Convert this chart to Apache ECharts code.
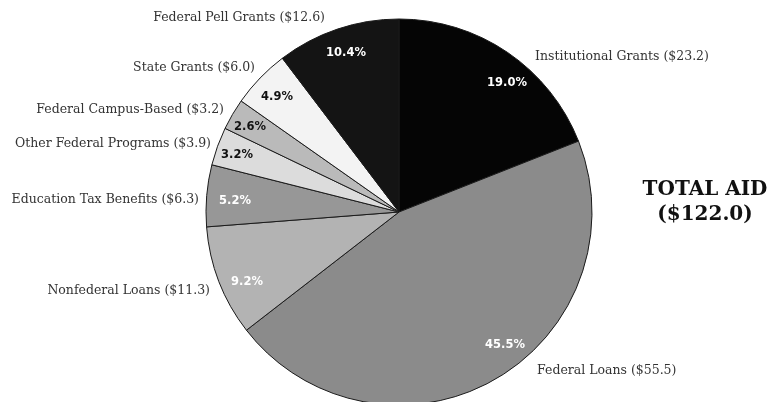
<!DOCTYPE html>
<html><head><meta charset="utf-8">
<script src="https://cdn.jsdelivr.net/npm/echarts@6/dist/echarts.min.js"></script>
<style>html,body{margin:0;padding:0;background:#fff}#c{width:774px;height:402px}</style>
</head><body><div id="c"></div>
<script>
// Data (billions of dollars), clockwise from 12 o'clock
const categories = ['Institutional Grants','Federal Loans','Nonfederal Loans','Education Tax Benefits','Other Federal Programs','Federal Campus-Based','State Grants','Federal Pell Grants'];
const values = [23.2, 55.5, 11.3, 6.3, 3.9, 3.2, 6.0, 12.6];
const pctLabels = ['19.0%','45.5%','9.2%','5.2%','3.2%','2.6%','4.9%','10.4%'];
const totalLabel = '($122.0)';

// Styles & label placement (kept separate from data)
const sliceColors = ['#050505','#8b8b8b','#b3b3b3','#979797','#dcdcdc','#bababa','#f3f3f3','#141414'];
const pctColors = ['#fff','#fff','#fff','#fff','#111','#111','#111','#fff'];
const pctPos = [[507,83],[505,345],[247,282],[235,201],[237,155],[250,127],[277,97],[346,53]];
const namePos = [[535,57,'left'],[537,371,'left'],[210,291,'right'],[199,200,'right'],[211,144,'right'],[224,110,'right'],[255,68,'right'],[325,18,'right']];

const chart = echarts.init(document.getElementById('c'), null, {renderer:'canvas'});
const center = [399, 212];
const radius = 193;

const sliceData = categories.map((c,i)=>({
  name:c, value:values[i],
  itemStyle:{color:sliceColors[i]},
  label:{color:pctColors[i]}
}));
const nameData = categories.map((c,i)=>({name:c, value:values[i]}));

chart.setOption({
  animation:false,
  graphic:[
    {type:'text', x:705, y:190, style:{text:'TOTAL AID', fill:'#111', font:'bold 20px "DejaVu Serif"', textAlign:'center', textVerticalAlign:'middle'}},
    {type:'text', x:705, y:215, style:{text:totalLabel, fill:'#111', font:'bold 20px "DejaVu Serif"', textAlign:'center', textVerticalAlign:'middle'}}
  ],
  series:[
    {
      type:'pie', center:center, radius:radius, startAngle:90, clockwise:true,
      data:sliceData,
      itemStyle:{borderColor:'#1a1a1a', borderWidth:1},
      label:{show:true, position:'inside', formatter:p=>pctLabels[p.dataIndex],
        fontFamily:'DejaVu Sans', fontWeight:'bold', fontSize:11.5},
      labelLine:{show:false},
      labelLayout:p=>({x:pctPos[p.dataIndex][0], y:pctPos[p.dataIndex][1], align:'center', verticalAlign:'middle'}),
      emphasis:{disabled:true}, silent:true
    },
    {
      type:'pie', center:center, radius:radius, startAngle:90, clockwise:true,
      data:nameData,
      itemStyle:{color:'rgba(0,0,0,0)', borderWidth:0},
      label:{show:true, position:'outside', overflow:'none', formatter:p=>p.name+' ($'+p.value.toFixed(1)+')',
        fontFamily:'DejaVu Serif', fontSize:12.5, color:'#333'},
      labelLine:{show:false},
      labelLayout:p=>({x:namePos[p.dataIndex][0], y:namePos[p.dataIndex][1], align:namePos[p.dataIndex][2], verticalAlign:'middle'}),
      emphasis:{disabled:true}, silent:true
    }
  ]
});
</script></body></html>
